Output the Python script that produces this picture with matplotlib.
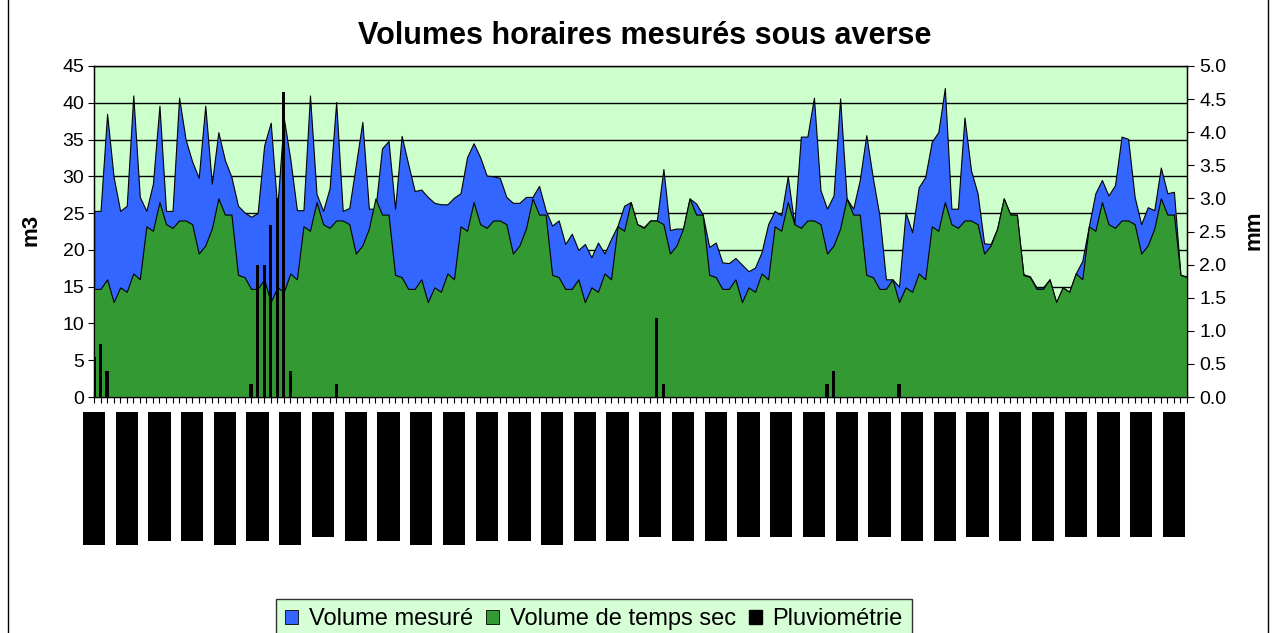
import matplotlib
matplotlib.use("Agg")
import matplotlib.pyplot as plt
from matplotlib.patches import Patch, Rectangle
from matplotlib.transforms import blended_transform_factory

plt.rcParams["font.family"] = ["Liberation Sans", "DejaVu Sans"]

# volumes horaires (m3), 168 heures
volume_mesure = [
    25.3, 25.3, 38.5, 29.9, 25.3, 26.0, 41.0, 27.2, 25.3, 29.0, 39.6, 25.3,
    25.3, 40.7, 35.0, 32.0, 29.8, 39.6, 29.0, 36.0, 32.2, 29.9, 26.0, 25.1,
    24.5, 25.0, 34.2, 37.3, 25.7, 37.9, 32.3, 25.4, 25.4, 41.0, 27.6, 25.3,
    28.4, 40.1, 25.3, 25.7, 31.5, 37.4, 25.6, 25.6, 33.8, 34.8, 25.6, 35.5,
    31.7, 28.0, 28.2, 27.2, 26.4, 26.2, 26.2, 27.1, 27.7, 32.6, 34.5, 32.6,
    30.1, 30.0, 29.8, 27.2, 26.4, 26.4, 27.2, 27.2, 28.7, 25.4, 23.3, 24.0,
    20.8, 22.2, 20.0, 20.8, 19.0, 21.0, 19.5, 21.5, 23.3, 26.0, 26.5, 23.5,
    23.1, 24.0, 24.0, 31.0, 22.7, 22.9, 22.9, 27.0, 26.3, 24.8, 20.4, 21.0,
    18.3, 18.2, 18.9, 18.0, 17.1, 17.6, 19.7, 23.5, 25.3, 24.7, 30.0, 23.5,
    35.4, 35.4, 40.7, 28.1, 25.6, 27.4, 40.6, 27.0, 25.6, 29.5, 35.6, 29.8,
    24.7, 16.0, 16.0, 15.0, 25.1, 22.4, 28.5, 29.9, 34.7, 36.0, 42.0, 25.6,
    25.6, 38.0, 30.8, 27.7, 20.9, 20.8, 22.9, 27.0, 24.8, 24.8, 16.7, 16.4,
    14.9, 14.9, 16.0, 12.9, 14.9, 14.3, 16.8, 18.5, 23.2, 27.7, 29.5, 27.4,
    28.8, 35.4, 35.1, 27.2, 23.5, 25.8, 25.4, 31.2, 27.7, 27.9, 16.6, 16.4,
]

volume_temps_sec = [
    14.7, 14.7, 16.0, 12.9, 14.9, 14.3, 16.8, 16.0, 23.2, 22.6, 26.5, 23.5, 23.0, 24.0, 24.0, 23.5, 19.5, 20.6, 22.9, 27.0, 24.8, 24.8, 16.6, 16.3,
    14.7, 14.7, 16.0, 12.9, 14.9, 14.3, 16.8, 16.0, 23.2, 22.6, 26.5, 23.5, 23.0, 24.0, 24.0, 23.5, 19.5, 20.6, 22.9, 27.0, 24.8, 24.8, 16.6, 16.3,
    14.7, 14.7, 16.0, 12.9, 14.9, 14.3, 16.8, 16.0, 23.2, 22.6, 26.5, 23.5, 23.0, 24.0, 24.0, 23.5, 19.5, 20.6, 22.9, 27.0, 24.8, 24.8, 16.6, 16.3,
    14.7, 14.7, 16.0, 12.9, 14.9, 14.3, 16.8, 16.0, 23.2, 22.6, 26.5, 23.5, 23.0, 24.0, 24.0, 23.5, 19.5, 20.6, 22.9, 27.0, 24.8, 24.8, 16.6, 16.3,
    14.7, 14.7, 16.0, 12.9, 14.9, 14.3, 16.8, 16.0, 23.2, 22.6, 26.5, 23.5, 23.0, 24.0, 24.0, 23.5, 19.5, 20.6, 22.9, 27.0, 24.8, 24.8, 16.6, 16.3,
    14.7, 14.7, 16.0, 12.9, 14.9, 14.3, 16.8, 16.0, 23.2, 22.6, 26.5, 23.5, 23.0, 24.0, 24.0, 23.5, 19.5, 20.6, 22.9, 27.0, 24.8, 24.8, 16.6, 16.3,
    14.7, 14.7, 16.0, 12.9, 14.9, 14.3, 16.8, 16.0, 23.2, 22.6, 26.5, 23.5, 23.0, 24.0, 24.0, 23.5, 19.5, 20.6, 22.9, 27.0, 24.8, 24.8, 16.6, 16.3,
]

# pluviométrie (mm) : heures non nulles
pluie_heure = [0, 1, 2, 24, 25, 26, 27, 28, 29, 30, 37, 86, 87, 112, 113, 123]
pluie_mm = [0.6, 0.8, 0.4, 0.2, 2.0, 2.0, 2.6, 3.0, 4.6, 0.4, 0.2, 1.2, 0.2, 0.2, 0.4, 0.2]

# étiquettes de l'axe des x (rendues en blocs noirs), bas de chaque bloc en px
label_bottom_px = [545, 545, 541, 541, 545, 541, 545, 537, 541, 541, 545, 545,
                   541, 541, 545, 541, 541, 537, 541, 541, 537, 537, 537, 541,
                   537, 541, 541, 537, 541, 541, 537, 537, 537, 537]

BLUE = "#3366FF"
GREEN = "#339933"
BG = "#CCFFCC"

W, H = 1276, 633
fig = plt.figure(figsize=(W / 100, H / 100), dpi=100)
ax = fig.add_axes([94 / W, 1 - 397 / H, (1187 - 94) / W, (397 - 66) / H])
ax.set_facecolor(BG)

x = list(range(len(volume_mesure)))
ax.fill_between(x, 0, volume_mesure, facecolor=BLUE, edgecolor="black", lw=0.8, zorder=2)
ax.fill_between(x, 0, volume_temps_sec, facecolor=GREEN, edgecolor="black", lw=0.8, zorder=3)

ax.set_xlim(0, len(x) - 1)
ax.set_ylim(0, 45)
ax.set_yticks(range(0, 46, 5))
ax.yaxis.grid(True, color="black", lw=1)
ax.set_axisbelow(True)
ax.set_xticks(x)
ax.tick_params(axis="x", direction="inout", length=8, width=0.8, labelbottom=False)
ax.tick_params(axis="y", direction="out", length=4, width=0.8, labelsize=14, pad=3)
for s in ax.spines.values():
    s.set_linewidth(1)

ax2 = ax.twinx()
ax2.bar(pluie_heure, pluie_mm, width=0.5, color="black", zorder=4)
ax2.set_ylim(0, 5)
ax2.set_yticks([i * 0.5 for i in range(11)])
ax2.set_yticklabels([f"{i * 0.5:.1f}" for i in range(11)])
ax2.tick_params(axis="y", direction="out", length=5, width=0.8, labelsize=14, pad=4)

# blocs noirs sous l'axe
tr = blended_transform_factory(ax.transData, fig.transFigure)
for k, b in enumerate(label_bottom_px):
    xi = 5 * k
    ax.add_patch(Rectangle((xi - 1.7, 1 - b / H), 3.4, (b - 412) / H,
                           transform=tr, facecolor="black", edgecolor="none", clip_on=False))

fig.text(0.505, 1 - 36 / H, "Volumes horaires mesurés sous averse", ha="center", va="center",
         fontsize=22, fontweight="bold")
fig.text(31 / W, 1 - 230 / H, "m3", rotation=90, ha="center", va="center", fontsize=16, fontweight="bold")
fig.text(1254 / W, 1 - 230 / H, "mm", rotation=90, ha="center", va="center", fontsize=16, fontweight="bold")

handles = [Patch(facecolor=BLUE, edgecolor="black", lw=0.6),
           Patch(facecolor=GREEN, edgecolor="black", lw=0.6),
           Patch(facecolor="black", edgecolor="black")]
leg = fig.legend(handles, ["Volume mesuré", "Volume de temps sec", "Pluviométrie"],
                 loc="lower center", bbox_to_anchor=(594 / W, -0.022), ncol=3, fontsize=17,
                 frameon=True, fancybox=False, handlelength=0.55, handleheight=0.55,
                 handletextpad=0.45, columnspacing=0.55, borderpad=0.4, borderaxespad=0.3)
leg.get_frame().set_facecolor(BG)
leg.get_frame().set_edgecolor("black")
leg.get_frame().set_linewidth(1)

fig.patches.append(Rectangle((8 / W, -0.02), (1268 - 8) / W, 1.04, transform=fig.transFigure,
                             fill=False, edgecolor="black", lw=1))

fig.savefig("out.png", dpi=100)
